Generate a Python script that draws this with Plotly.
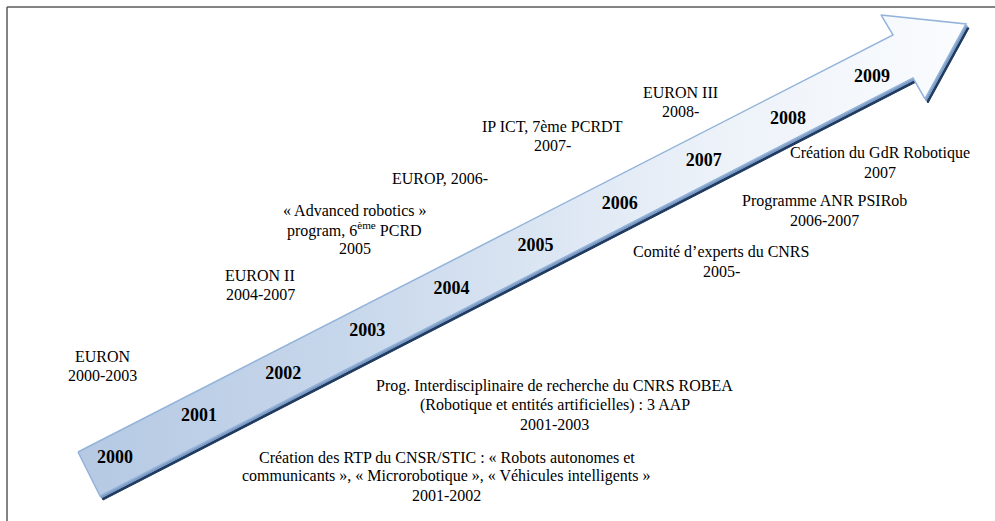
import plotly.graph_objects as go

# ---------------- data ----------------
years = [2000, 2001, 2002, 2003, 2004, 2005, 2006, 2007, 2008, 2009]

events_above = [
    "EURON<br>2000-2003",
    "EURON II<br>2004-2007",
    "« Advanced robotics »<br>program, 6<sup>ème</sup> PCRD<br>2005",
    "EUROP, 2006-",
    "IP ICT, 7ème PCRDT<br>2007-",
    "EURON III<br>2008-",
]
events_below = [
    "Création du GdR Robotique<br>2007",
    "Programme ANR PSIRob<br>2006-2007",
    "Comité d’experts du CNRS<br>2005-",
    "Prog. Interdisciplinaire de recherche du CNRS ROBEA<br>(Robotique et entités artificielles) : 3 AAP<br>2001-2003",
    "Création des RTP du CNSR/STIC : « Robots autonomes et<br>communicants », « Microrobotique », « Véhicules intelligents »<br>2001-2002",
]

# ---------------- layout (positions in axis units) ----------------
pos_above = [(1999.857, 2002.191), (2001.724, 2004.100), (2002.853, 2005.419),
             (2003.864, 2006.621), (2005.196, 2007.611), (2006.729, 2008.412)]
pos_below = [(2009.095, 2006.975), (2008.441, 2005.844), (2007.205, 2004.642),
             (2005.231, 2001.272), (2003.947, 1999.599)]
LINE_STEP = 19 / 42.44   # line spacing in y-axis units (≈19 px)

# arrow outline (decorative shape) in axis units
arrow_x = [1999.560, 2009.250, 2009.107, 2010.118, 2009.630, 2009.488, 1999.822, 1999.560]
arrow_y = [2000.165, 2009.991, 2010.462, 2010.250, 2008.483, 2008.977, 1999.128, 2000.165]

XR = [1998.6327, 2010.4625]
YR = [1998.539, 2010.815]

FONT = "Liberation Serif"

fig = go.Figure()

# dark shadow and bevel band under the arrow
for (dx, dy, col) in [(0.036, -0.095, "#1E3A60"), (0.016, -0.045, "#7E9CC4")]:
    fig.add_trace(go.Scatter(
        x=[v + dx for v in arrow_x], y=[v + dy for v in arrow_y],
        mode="lines", fill="toself", fillcolor=col,
        line=dict(color=col, width=1), hoverinfo="skip", showlegend=False))

# arrow body with gradient
fig.add_trace(go.Scatter(
    x=arrow_x, y=arrow_y, mode="lines", fill="toself",
    fillgradient=dict(type="horizontal",
                      colorscale=[[0, "#B5C9E3"], [0.3, "#C7D7EB"], [0.5, "#D9E4F2"],
                                  [0.72, "#EDF2F9"], [1, "#FAFCFE"]]),
    line=dict(color="#93B3DA", width=1.5), hoverinfo="skip", showlegend=False))

# year labels along the arrow
fig.add_trace(go.Scatter(
    x=years, y=years, mode="text", text=[str(y) for y in years],
    textfont=dict(family=FONT, size=18, color="#000000"),
    texttemplate="<b>%{text}</b>", hoverinfo="skip", showlegend=False))

for txt, (ax, ay) in zip(events_above + events_below, pos_above + pos_below):
    lines = txt.split("<br>")
    n = len(lines)
    for i, ln in enumerate(lines):
        fig.add_annotation(x=ax, y=ay + ((n - 1) / 2 - i) * LINE_STEP, xref="x", yref="y",
                           text=ln, showarrow=False, align="center",
                           font=dict(family=FONT, size=16, color="#000000"))

# frame lines (left and top)
fig.add_shape(type="line", xref="paper", yref="paper", x0=7/995, x1=7/995, y0=0, y1=1-7/521,
              line=dict(color="#5A5A5A", width=1.5))
fig.add_shape(type="line", xref="paper", yref="paper", x0=7/995, x1=1, y0=1-7/521, y1=1-7/521,
              line=dict(color="#5A5A5A", width=1.5))

fig.update_xaxes(range=XR, visible=False, fixedrange=True)
fig.update_yaxes(range=YR, visible=False, fixedrange=True)
fig.update_layout(width=995, height=521, margin=dict(l=0, r=0, t=0, b=0),
                  paper_bgcolor="white", plot_bgcolor="white", hovermode=False,
                  font=dict(family=FONT))

fig.write_html("out.html", config={"displayModeBar": False, "staticPlot": True},
               post_script="document.body.style.margin='0';document.body.style.overflow='hidden';")
